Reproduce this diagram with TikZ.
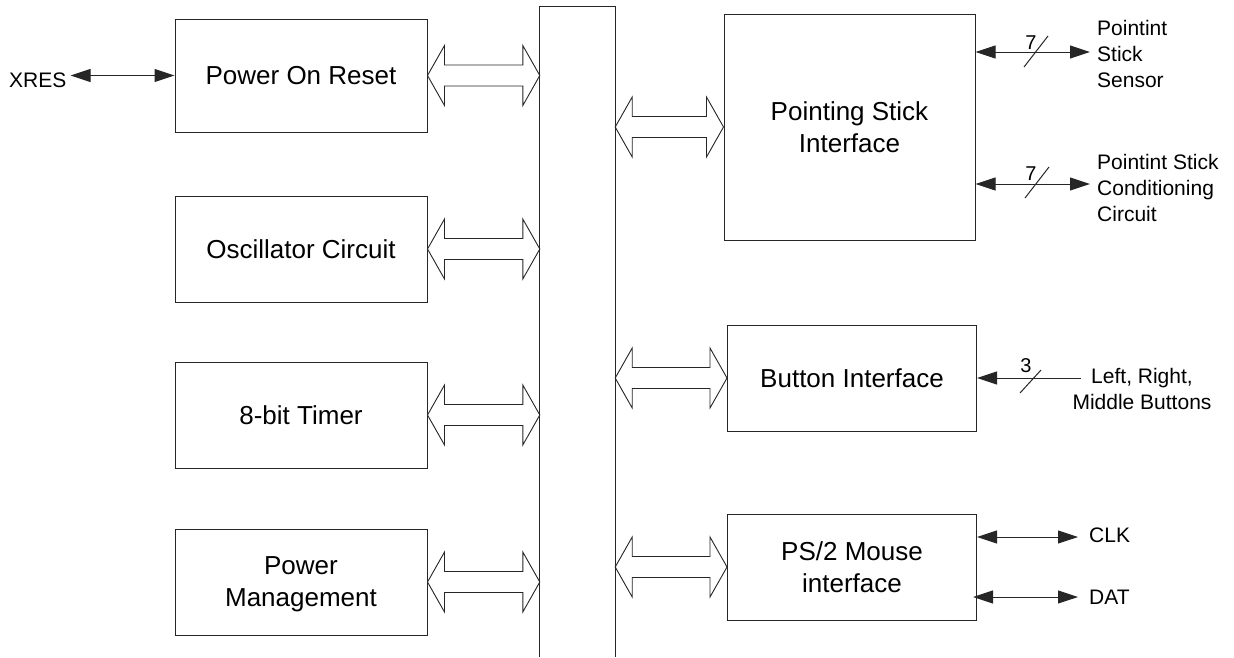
\documentclass[tikz,border=0pt]{standalone}
\usepackage{fontspec}
\setmainfont{Liberation Sans}
\usetikzlibrary{arrows.meta,calc}
\newcommand{\hollowarrow}[2]{%
  \draw[busar] (#1) -- ++(17,-30) -- ++(0,19.5) -- ($(#2)+(-17,-10.5)$) -- ++(0,-19.5)
    -- (#2) -- ++(-17,30) -- ++(0,-19.5) -- ($(#1)+(17,10.5)$) -- ++(0,19.5) -- cycle;}
\begin{document}
\begin{tikzpicture}[x=1pt,y=-1pt,
  >={Triangle[length=20pt,width=13pt]},
  blk/.style={draw=black!85, line width=1pt, inner sep=0pt, align=center,
              font=\fontsize{26}{32}\selectfont},
  busar/.style={draw=black!85, line width=0.9pt, fill=white, line join=miter},
  sig/.style={draw=black!85, line width=1pt},
  lbl/.style={inner sep=0pt, font=\fontsize{21}{26}\selectfont, align=left},
  num/.style={inner sep=0pt, font=\fontsize{20}{24}\selectfont, anchor=south},
]
\useasboundingbox (0,0) rectangle (1234,657);

% left blocks
\node[blk, minimum width=252pt, minimum height=113pt] (por) at (301,75.5) {Power On Reset};
\node[blk, minimum width=252pt, minimum height=106pt] (osc) at (301,249) {Oscillator Circuit};
\node[blk, minimum width=252pt, minimum height=106pt] (tim) at (301,415) {8-bit Timer};
\node[blk, minimum width=252pt, minimum height=106pt, text depth=0pt] (pm) at (301,582) {Power\\Management};

% bus
\node[minimum width=75pt, minimum height=650pt, inner sep=0pt] (bus) at (577.5,332) {};
\draw[sig] (bus.south west) -- (bus.north west) -- (bus.north east) -- (bus.south east);

% right blocks
\node[blk, minimum width=251pt, minimum height=226pt] (psi) at (849.5,127) {Pointing Stick\\Interface};
\node[blk, minimum width=249pt, minimum height=106pt] (btn) at (852,378) {Button Interface};
\node[blk, minimum width=249pt, minimum height=106pt] (ps2) at (852,567) {PS/2 Mouse\\interface};

% bus arrows
\coordinate (b1) at (bus.west |- por.east);
\coordinate (b2) at (bus.west |- osc.east);
\coordinate (b3) at (bus.west |- tim.east);
\coordinate (b4) at (bus.west |- pm.east);
\coordinate (b5) at (bus.east |- psi.west);
\coordinate (b6) at (bus.east |- btn.west);
\coordinate (b7) at (bus.east |- ps2.west);
\hollowarrow{por.east}{b1}
\hollowarrow{osc.east}{b2}
\hollowarrow{tim.east}{b3}
\hollowarrow{pm.east}{b4}
\hollowarrow{b5}{psi.west}
\hollowarrow{b6}{btn.west}
\hollowarrow{b7}{ps2.west}

% XRES
\node[lbl, anchor=base west] (xres) at (9,87) {XRES};
\coordinate (xr) at ($(xres.east |- por.west)+(4,0)$);
\draw[sig,<->] (xr) -- (por.west);

% pointing stick sensor
\coordinate (pss) at (1090,52);
\draw[sig,<->] (psi.east |- pss) -- (pss);
\coordinate (sl1) at (1036,52);
\draw[sig] ($(sl1)+(-12,15)$) -- ($(sl1)+(12,-16)$);
\node[num] (n7a) at (1031,50) {7};
\node[lbl, anchor=west] (psstxt) at (1097,53.5) {Pointint\\Stick\\Sensor};

% pointing stick conditioning
\coordinate (psc) at (1090,184);
\draw[sig,<->] (psi.east |- psc) -- (psc);
\coordinate (sl2) at (1037,183);
\draw[sig] ($(sl2)+(-12,15)$) -- ($(sl2)+(12,-16)$);
\node[num] (n7b) at (1031,181) {7};
\node[lbl, anchor=west] (psctxt) at (1097,187.5) {Pointint Stick\\Conditioning\\Circuit};

% buttons
\coordinate (bsrc) at (1081,378);
\draw[sig,->] (bsrc) -- (btn.east |- bsrc);
\coordinate (sl3) at (1031,381);
\draw[sig] ($(sl3)+(-11,12)$) -- ($(sl3)+(10,-11)$);
\node[num] (n3) at (1026,373) {3};
\node[lbl, align=center] (btxt) at (1142,388.5) {Left, Right,\\Middle Buttons};

% PS/2
\coordinate (clk) at (1078,537);
\draw[sig,<->] (ps2.east |- clk) -- (clk);
\node[lbl, anchor=west] (clktxt) at (1089,535) {CLK};
\coordinate (dat) at (1078,597);
\draw[sig,<->] ([xshift=-4pt]ps2.east |- dat) -- (dat);
\node[lbl, anchor=west] (dattxt) at (1089,597.5) {DAT};
\end{tikzpicture}
\end{document}
